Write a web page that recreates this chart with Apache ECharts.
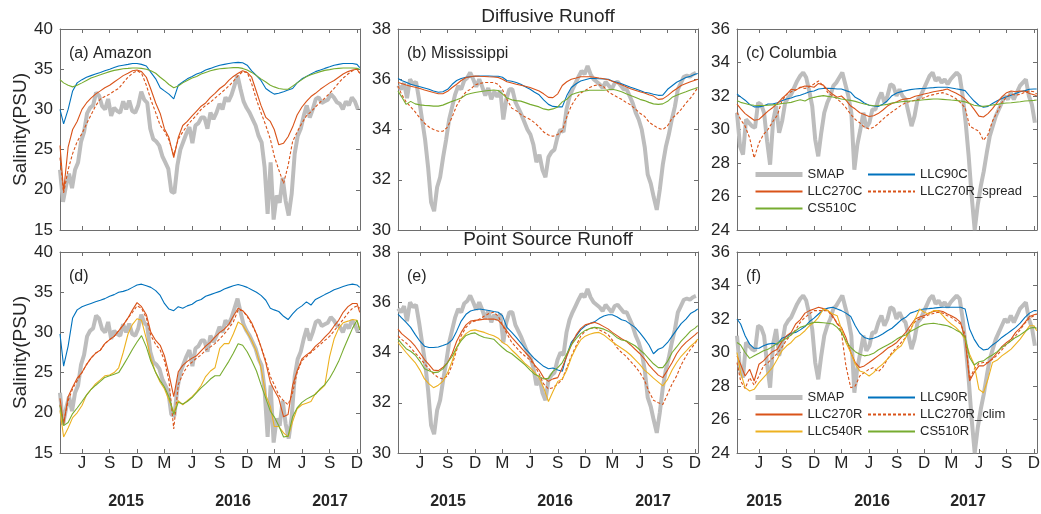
<!DOCTYPE html>
<html><head><meta charset="utf-8">
<script src="https://cdn.jsdelivr.net/npm/echarts@6.0.0/dist/echarts.min.js"></script>
<style>html,body{margin:0;padding:0;background:#fff}#c{width:1041px;height:514px}</style>
</head><body><div id="c"></div>
<script>
// ---------- time grids ----------
const semiDates = ['2015-03-20','2015-04-01','2015-04-16','2015-05-01','2015-05-16','2015-06-01','2015-06-16','2015-07-01','2015-07-16','2015-08-01','2015-08-16','2015-09-01','2015-09-16','2015-10-01','2015-10-16','2015-11-01','2015-11-16','2015-12-01','2015-12-16',
'2016-01-01','2016-01-16','2016-02-01','2016-02-16','2016-03-01','2016-03-16','2016-04-01','2016-04-16','2016-05-01','2016-05-16','2016-06-01','2016-06-16','2016-07-01','2016-07-16','2016-08-01','2016-08-16','2016-09-01','2016-09-16','2016-10-01','2016-10-16','2016-11-01','2016-11-16','2016-12-01','2016-12-16',
'2017-01-01','2017-01-16','2017-02-01','2017-02-16','2017-03-01','2017-03-16','2017-04-01','2017-04-16','2017-05-01','2017-05-16','2017-06-01','2017-06-16','2017-07-01','2017-07-16','2017-08-01','2017-08-16','2017-09-01','2017-09-16','2017-10-01','2017-10-16','2017-11-01','2017-11-16','2017-12-01','2017-12-10'];
const smapStart = '2015-03-20';   // SMAP series sampled every 10 days
const smapStepDays = 10;
const xMin = '2015-03-20', xMax = '2017-12-11';
const monthTicks = ['2015-06-01','2015-09-01','2015-12-01','2016-03-01','2016-06-01','2016-09-01','2016-12-01','2017-03-01','2017-06-01','2017-09-01','2017-12-01'];
const monthLetters = ['J','S','D','M','J','S','D','M','J','S','D'];
const yearLabels = ['2015','2016','2017'];

// ---------- Amazon ----------
const smapAmazon = [22.5,18.5,20.5,22.0,20.2,22.5,23.4,26.0,27.2,29.5,30.2,30.5,32.1,31.7,30.4,30.0,31.3,29.2,30.2,29.8,29.6,31.0,30.0,31.1,29.8,29.6,30.5,32.2,31.2,30.8,27.6,26.3,26.0,25.5,24.2,23.4,22.6,19.8,19.6,23.0,25.0,26.0,27.0,27.8,25.8,28.0,28.3,29.0,29.0,27.6,29.6,28.8,29.6,30.7,30.0,31.5,31.0,31.8,33.0,34.2,32.5,31.0,30.2,29.6,28.8,28.0,26.7,25.9,22.8,17.0,23.4,16.3,19.3,18.4,21.5,18.6,16.8,19.5,24.5,26.7,27.6,29.2,30.5,29.0,30.0,31.3,31.5,30.8,31.0,31.2,31.9,31.5,30.9,30.7,30.0,31.0,30.5,31.5,31.0,30.0];
const llc90cAmazon = [30.0,28.2,30.0,32.3,33.3,33.7,34.0,34.2,34.4,34.6,34.8,35.0,35.2,35.4,35.5,35.6,35.7,35.7,35.6,35.4,34.6,33.8,32.7,32.3,31.9,31.3,33.0,33.4,33.8,34.1,34.4,34.6,34.9,35.1,35.3,35.5,35.6,35.7,35.8,35.85,35.8,35.5,34.8,34.2,33.6,32.6,32.2,31.9,32.0,32.2,32.4,32.6,33.3,33.8,34.1,34.4,34.7,34.9,35.1,35.3,35.5,35.6,35.7,35.7,35.7,35.6,35.2];
const llc270cAmazon = [25.5,19.8,25.3,27.5,28.5,30.0,30.8,31.4,31.9,32.3,32.7,33.0,33.4,33.8,34.2,34.5,34.8,34.9,34.7,34.0,32.5,30.8,29.5,27.6,26.5,24.0,26.5,28.0,28.5,29.2,29.8,30.4,30.8,31.5,32.0,32.6,33.0,33.6,34.1,34.5,34.8,34.6,34.0,32.2,30.5,29.0,28.5,27.5,25.6,25.8,26.6,27.8,29.3,30.3,31.0,31.6,32.0,32.5,32.9,33.3,33.6,34.0,34.4,34.7,34.9,35.0,34.5];
const spreadAmazon = [24.0,19.6,22.5,24.5,26.0,27.0,28.2,29.3,30.4,31.3,31.6,31.9,32.3,32.6,33.3,34.0,34.5,34.8,34.5,33.0,31.2,29.6,28.0,27.3,26.2,24.3,26.3,27.2,28.0,28.7,29.3,30.0,30.5,30.9,31.4,31.9,32.4,32.9,33.5,34.2,34.7,34.6,33.2,31.2,29.6,28.0,26.3,24.2,22.5,20.8,23.0,26.0,27.2,28.3,29.2,29.7,30.3,30.9,31.4,32.0,32.6,33.3,33.9,34.4,34.8,35.1,34.5];
const cs510cAmazon = [33.7,33.3,33.0,32.8,33.0,33.3,33.6,33.9,34.1,34.3,34.5,34.7,34.85,34.95,35.05,35.1,35.15,35.15,35.1,35.0,34.8,34.5,34.0,33.6,33.1,32.7,32.9,33.3,33.6,33.9,34.1,34.4,34.6,34.8,34.95,35.05,35.1,35.15,35.2,35.2,35.1,34.9,34.6,34.2,33.8,33.4,33.0,32.8,32.6,32.5,32.5,32.9,33.3,33.7,34.1,34.3,34.5,34.7,34.85,34.95,35.05,35.1,35.15,35.15,35.15,35.1,35.0];
const llc90rAmazon = [29.8,25.8,28.3,31.8,32.8,33.2,33.4,33.6,33.8,34.0,34.2,34.5,34.7,35.0,35.1,35.3,35.6,35.9,36.0,35.8,35.6,35.2,34.6,33.6,32.9,32.7,33.2,33.0,33.3,33.5,33.9,34.1,34.5,34.7,34.9,35.1,35.4,35.6,35.8,35.95,35.8,35.6,35.3,35.0,34.6,34.0,33.0,32.8,32.6,32.0,31.6,32.3,32.9,33.3,33.8,33.4,34.1,34.4,34.7,35.0,35.3,35.5,35.7,35.9,36.0,35.9,35.6];
const llc270rAmazon = [21.8,18.5,22.0,23.2,24.3,25.0,26.0,26.8,27.4,27.8,28.6,29.1,29.5,30.2,30.9,31.8,32.8,33.7,33.2,32.2,30.0,29.0,28.4,27.1,24.8,22.0,25.1,25.9,26.4,26.8,27.1,27.7,28.3,28.8,29.4,30.0,30.4,31.0,32.0,33.0,32.7,32.1,31.2,29.8,28.2,26.2,23.8,22.8,21.8,19.5,19.8,23.4,25.2,26.7,27.2,27.6,28.3,28.8,29.4,30.0,30.8,31.5,32.5,33.2,33.6,33.6,32.5];
const climAmazon = [21.0,18.8,21.5,23.0,24.0,25.0,26.0,26.8,27.4,27.8,28.6,29.1,29.5,30.2,30.9,31.8,32.5,33.3,33.0,31.8,29.6,28.5,27.8,26.5,24.0,18.0,23.5,24.8,25.8,26.3,26.8,27.2,27.8,28.2,28.6,29.2,29.8,30.5,31.3,32.8,32.7,32.0,31.0,29.8,28.2,26.5,24.5,23.5,22.2,21.5,21.0,22.5,25.0,26.5,27.0,27.5,28.0,28.5,29.0,29.5,30.2,30.9,31.6,32.4,33.0,33.3,33.0];
const llc540rAmazon = [20.3,17.0,18.1,19.4,20.0,20.9,22.2,22.9,23.6,24.1,24.6,24.7,25.0,25.6,27.5,29.8,31.0,31.7,31.5,29.2,26.8,25.0,23.8,23.0,21.6,20.1,21.5,21.0,21.5,22.0,22.6,23.4,24.5,25.2,25.6,28.0,28.6,28.6,29.8,31.3,30.9,30.0,29.0,27.6,25.6,22.2,20.8,18.3,18.3,17.5,17.0,18.9,20.5,21.0,21.2,21.4,22.4,22.9,23.4,27.0,29.2,30.5,31.2,31.4,31.6,31.5,30.5];
const cs510rAmazon = [20.9,18.4,18.8,19.9,20.6,21.4,22.2,22.9,23.4,23.9,24.4,24.6,24.8,25.0,25.9,26.9,27.9,28.8,29.6,28.2,26.4,25.0,24.0,23.2,22.0,19.8,21.3,21.1,21.4,21.9,22.5,23.1,23.6,24.2,24.6,24.6,25.5,26.4,27.4,28.6,28.4,27.6,26.5,25.2,23.5,21.8,20.2,19.5,18.4,17.0,17.1,19.5,20.6,21.3,21.7,22.0,22.3,23.0,23.5,24.3,25.3,26.4,27.8,29.2,30.5,31.5,30.3];

// ---------- Mississippi ----------
const smapMiss = [35.75,35.6,35.85,35.25,36.0,35.8,35.9,35.2,34.4,33.6,32.5,31.1,30.75,31.7,32.1,32.9,33.6,34.4,34.9,35.4,35.73,35.6,35.95,36.05,36.27,36.0,35.7,36.0,35.7,35.35,35.65,35.2,35.5,35.3,35.55,34.4,35.2,35.6,35.6,35.1,34.85,34.6,34.3,34.0,33.8,33.4,32.7,33.0,32.4,32.1,32.9,33.1,33.2,33.7,34.0,33.9,34.8,35.3,35.6,35.85,36.1,36.33,36.2,36.53,36.2,36.0,35.9,35.8,35.65,35.9,35.75,35.6,35.85,35.9,35.75,35.6,35.6,35.33,35.05,34.67,34.4,34.0,33.3,32.2,31.85,31.3,30.8,31.6,32.6,33.3,33.8,34.4,34.9,35.6,35.85,36.1,36.15,36.1,36.2,36.25];
const llc90cMiss = [36.03,35.95,35.88,35.8,35.75,35.7,35.65,35.6,35.53,35.48,35.5,35.6,35.8,35.95,36.03,36.08,36.1,36.12,36.13,36.13,36.13,36.12,36.12,36.08,35.95,35.92,35.87,35.8,35.7,35.6,35.48,35.38,35.18,35.0,34.92,34.9,34.9,35.35,35.67,35.82,35.93,35.98,36.03,36.03,36.02,36.01,36.0,35.93,35.88,35.82,35.75,35.68,35.62,35.55,35.48,35.45,35.4,35.36,35.37,35.6,35.74,35.88,35.97,36.07,36.12,36.2,36.23];
const llc270cMiss = [35.87,35.83,35.77,35.72,35.68,35.63,35.57,35.52,35.47,35.42,35.42,35.52,35.67,35.8,35.95,36.07,36.1,36.13,36.12,36.11,36.1,36.09,36.07,36.0,35.9,35.85,35.8,35.76,35.72,35.67,35.6,35.53,35.42,35.28,35.27,35.42,35.75,35.9,36.0,36.05,36.1,36.1,36.1,36.08,36.05,36.02,35.98,35.92,35.85,35.78,35.7,35.62,35.56,35.5,35.45,35.38,35.33,35.2,35.22,35.35,35.5,35.62,35.75,35.83,35.9,35.96,36.0];
const spreadMiss = [35.73,35.4,35.1,34.9,34.7,34.45,34.25,34.1,34.0,33.93,33.93,34.1,34.5,34.95,35.25,35.5,35.6,35.78,35.83,35.87,35.87,35.87,35.8,35.6,35.2,34.85,34.75,34.6,34.5,34.4,34.27,34.1,33.9,33.78,33.73,33.8,33.95,34.5,34.95,35.25,35.45,35.55,35.67,35.75,35.78,35.7,35.5,35.4,35.3,35.2,35.08,34.98,34.82,34.65,34.53,34.3,34.17,34.05,34.0,34.15,34.45,34.6,34.8,35.05,35.25,35.5,35.67];
const cs510cMiss = [35.53,35.3,35.0,35.12,35.02,34.98,34.96,34.95,34.93,34.93,34.97,35.05,35.12,35.18,35.25,35.38,35.43,35.47,35.5,35.53,35.55,35.57,35.55,35.42,35.25,35.18,35.15,35.13,35.07,35.0,34.95,34.9,34.82,34.78,34.82,34.9,35.1,35.2,35.38,35.45,35.5,35.53,35.56,35.56,35.56,35.56,35.58,35.6,35.56,35.5,35.42,35.35,35.28,35.2,35.15,35.08,35.02,35.0,35.02,35.12,35.28,35.36,35.43,35.5,35.57,35.63,35.67];
const llc90rMiss = [35.53,35.38,35.2,35.0,34.72,34.45,34.25,34.2,34.2,34.22,34.28,34.35,34.5,34.85,35.25,35.52,35.65,35.7,35.73,35.7,35.67,35.63,35.6,35.47,35.0,34.8,34.6,34.38,34.15,33.95,33.75,33.6,33.45,33.35,33.38,33.3,33.25,33.9,34.4,34.65,34.9,35.05,35.15,35.22,35.35,35.45,35.5,35.5,35.42,35.3,35.25,35.12,35.0,34.78,34.55,34.3,33.95,34.13,34.2,34.4,34.65,34.9,35.15,35.33,35.55,35.65,35.73];
const llc270rMiss = [34.93,34.75,34.6,34.45,34.25,33.98,33.72,33.52,33.3,33.28,33.4,33.6,33.95,34.45,34.8,35.1,35.25,35.28,35.3,35.33,35.33,35.33,35.28,35.1,34.85,34.6,34.4,34.2,34.0,33.8,33.5,33.3,33.0,32.85,32.95,33.0,33.4,33.85,34.3,34.7,34.95,35.1,35.15,35.2,35.13,35.03,34.93,34.8,34.68,34.55,34.45,34.3,34.13,33.95,33.75,33.5,33.3,33.1,33.0,33.3,33.6,33.95,34.2,34.4,34.55,34.7,34.8];
const climMiss = [34.67,34.52,34.38,34.2,33.98,33.78,33.55,33.35,33.15,33.0,32.95,33.07,33.5,34.1,34.67,35.0,35.18,35.25,35.33,35.45,35.55,35.6,35.45,35.1,34.75,34.4,34.2,34.0,33.85,33.7,33.48,33.15,32.75,32.55,32.6,32.75,32.93,33.4,33.85,34.27,34.65,34.85,34.95,35.0,34.9,34.82,34.7,34.5,34.2,34.0,33.85,33.65,33.45,33.2,32.9,32.45,32.1,32.0,31.93,32.35,32.75,33.07,33.5,33.85,34.13,34.35,34.53];
const llc540rMiss = [34.4,34.22,34.0,33.8,33.6,33.3,32.95,32.75,32.6,32.7,32.85,33.2,33.65,34.2,34.53,34.75,34.87,34.9,34.85,34.8,34.73,34.67,34.57,34.4,34.3,34.1,33.93,33.75,33.55,33.4,33.2,33.0,32.6,32.05,32.45,32.85,32.95,33.3,33.8,34.2,34.5,34.65,34.73,34.78,34.8,34.7,34.55,34.43,34.3,34.17,34.05,33.9,33.72,33.52,33.3,33.15,32.98,32.82,32.67,32.93,33.3,33.6,33.85,34.05,34.25,34.4,34.53];
const cs510rMiss = [34.53,34.35,34.15,34.05,33.9,33.65,33.35,33.27,33.2,33.22,33.35,33.6,33.85,34.2,34.47,34.68,34.75,34.78,34.68,34.6,34.57,34.53,34.35,34.2,34.05,33.95,33.8,33.65,33.5,33.3,33.13,33.05,32.95,32.97,33.25,33.4,33.6,33.95,34.3,34.55,34.75,34.88,34.95,35.0,34.98,34.93,34.85,34.75,34.6,34.5,34.47,34.37,34.27,34.1,33.95,33.75,33.55,33.4,33.4,33.65,34.0,34.22,34.45,34.65,34.85,34.97,35.07];

// ---------- Columbia ----------
const smapColumbia = [31.0,29.0,28.5,30.6,30.4,30.2,30.1,31.6,31.5,31.0,29.3,27.9,30.5,31.4,29.8,30.5,31.6,31.9,32.1,32.5,32.9,33.2,33.4,33.1,32.3,31.4,29.4,28.4,29.8,31.0,31.6,32.0,32.6,32.8,33.1,33.4,32.7,32.0,31.0,27.6,29.1,30.0,31.0,30.1,30.4,31.2,31.2,31.8,32.2,31.6,32.0,32.7,32.6,32.0,32.4,32.0,31.8,31.0,30.2,30.8,31.8,32.0,32.4,32.8,33.2,33.4,32.9,33.1,32.8,33.0,32.7,33.0,33.2,33.4,33.2,32.0,30.4,28.4,26.0,24.0,25.5,26.6,27.5,28.6,29.6,30.2,30.8,31.2,31.6,32.0,31.8,32.2,31.8,32.2,32.6,32.8,33.0,32.0,31.5,30.4];
const llc90cColumbia = [32.12,31.95,31.75,31.5,31.35,31.35,31.4,31.52,31.52,31.6,31.72,31.82,31.88,31.98,32.05,32.15,32.25,32.3,32.42,32.45,32.46,32.45,32.42,32.42,32.32,32.22,31.92,31.78,31.58,31.45,31.4,31.38,31.5,31.72,32.02,32.18,32.26,32.32,32.38,32.42,32.44,32.45,32.48,32.5,32.52,32.52,32.52,32.48,32.43,32.38,32.32,32.0,31.7,31.45,31.33,31.38,31.55,31.72,31.85,31.95,32.05,32.15,32.25,32.32,32.4,32.42,32.42];
const llc270cColumbia = [31.52,31.25,30.95,30.75,30.55,30.6,30.85,31.1,31.3,31.55,31.85,32.1,32.4,32.35,32.5,32.6,32.58,32.52,32.75,32.65,32.35,32.1,31.93,32.0,31.75,31.4,31.22,31.0,30.9,30.78,30.82,30.95,31.15,31.4,31.55,31.65,31.78,31.83,31.86,31.98,32.05,32.12,32.18,32.25,32.3,32.35,32.42,32.3,32.18,32.02,31.82,31.55,31.2,30.8,30.75,30.95,31.25,31.62,31.95,32.2,32.3,32.25,32.3,32.28,32.15,32.08,32.02];
const spreadColumbia = [31.02,30.6,30.2,29.5,28.3,29.2,29.7,30.0,30.45,30.85,31.7,32.1,32.25,32.35,32.52,32.45,32.55,32.72,32.9,32.6,32.2,32.0,31.83,31.6,31.3,30.9,30.6,30.4,30.15,30.03,30.13,30.35,30.6,30.85,31.05,31.25,31.45,31.6,31.68,31.75,31.82,31.9,32.02,32.08,32.15,32.2,32.1,32.0,31.85,31.6,31.3,30.2,30.05,29.9,29.35,29.7,30.5,31.05,31.6,31.95,32.12,32.05,32.1,32.22,32.3,32.25,32.12];
const cs510cColumbia = [31.72,31.62,31.55,31.48,31.45,31.43,31.43,31.45,31.47,31.5,31.55,31.58,31.62,31.7,31.78,31.7,31.85,31.92,31.98,32.02,31.98,31.94,31.88,31.82,31.78,31.74,31.68,31.6,31.52,31.46,31.42,31.43,31.46,31.5,31.58,31.62,31.66,31.68,31.7,31.72,31.75,31.78,31.8,31.82,31.82,31.8,31.78,31.76,31.74,31.7,31.65,31.55,31.45,31.4,31.38,31.42,31.46,31.5,31.55,31.58,31.6,31.63,31.66,31.7,31.72,31.74,31.76];
const llc90rColumbia = [32.0,31.7,31.0,30.5,30.25,30.25,30.4,30.5,30.55,30.5,30.85,30.95,31.15,31.2,31.35,31.55,31.85,32.05,32.3,32.55,32.65,32.7,32.6,32.5,32.35,32.15,31.6,31.15,30.9,30.8,30.85,30.95,31.1,31.3,31.45,31.7,31.95,32.1,32.35,32.45,32.55,32.6,32.62,32.65,32.68,32.7,32.7,32.7,32.7,32.7,32.6,31.4,30.8,30.35,30.15,30.2,30.45,30.65,30.9,31.1,31.3,31.5,31.75,32.1,32.35,32.5,32.5];
const llc270rColumbia = [29.8,29.3,28.6,29.0,28.3,29.3,29.5,29.8,30.05,30.2,30.65,31.0,31.2,31.7,31.95,32.35,32.5,32.6,32.7,32.62,32.5,32.2,31.7,31.5,30.9,30.0,29.4,29.1,29.2,29.4,29.6,29.8,30.0,30.25,30.4,30.6,30.9,31.2,31.6,32.0,32.12,32.2,32.35,32.45,32.5,32.45,32.3,32.2,32.05,31.8,30.8,28.3,28.8,29.2,29.2,29.4,29.65,30.0,30.35,30.6,30.8,31.2,31.45,31.8,32.15,32.25,32.3];
const climColumbia = [29.4,28.3,27.85,28.5,28.05,28.6,29.2,29.4,29.65,29.95,30.3,30.75,31.05,31.35,31.8,32.1,32.3,32.5,32.5,32.5,32.5,32.1,31.8,31.2,29.2,27.9,28.0,28.6,28.8,29.0,29.1,28.85,29.1,29.6,30.0,30.3,30.6,30.9,31.4,31.85,32.0,32.1,32.25,32.33,32.4,32.35,32.2,32.1,31.9,31.7,31.1,28.4,29.0,29.35,29.4,29.4,29.6,29.85,30.15,30.5,30.7,31.0,31.35,31.75,32.05,32.2,32.3];
const llc540rColumbia = [30.0,28.8,27.9,27.7,27.8,28.2,28.5,28.8,29.1,29.6,30.1,30.4,30.6,30.9,31.05,31.3,31.6,31.8,32.1,32.6,32.5,32.3,32.2,31.4,30.6,30.0,29.3,28.9,28.8,28.6,28.8,29.1,29.3,29.6,29.9,30.2,30.4,30.9,31.3,32.0,32.6,32.4,32.3,32.5,32.5,32.2,31.9,31.7,31.5,31.2,30.8,29.9,29.3,27.8,27.6,28.4,29.4,29.55,29.8,30.0,30.2,30.5,30.8,31.2,31.6,31.6,31.3];
const cs510rColumbia = [30.6,30.45,30.0,29.65,29.8,29.95,30.1,30.2,30.35,30.55,30.7,30.85,31.05,31.3,31.5,31.6,31.72,31.8,31.8,31.78,31.75,31.7,31.5,31.2,30.7,30.3,30.05,29.9,29.8,29.85,29.95,30.15,30.3,30.45,30.6,30.8,30.95,31.05,31.25,31.4,31.55,31.68,31.72,31.75,31.7,31.65,31.6,31.5,31.35,31.2,30.9,29.7,29.25,29.45,29.5,29.7,29.85,30.05,30.3,30.5,30.7,30.9,31.05,31.25,31.45,31.5,31.45];

// ---------- styles / layout ----------
const FONT = "'Liberation Sans', Arial, Helvetica, sans-serif";
const TXT = '#262626', BOX = '#6e6e6e';
const styles = {
  'SMAP':           {color:'#BDBDBD', width:4,   type:'solid'},
  'LLC90C':         {color:'#0072BD', width:1.1, type:'solid'},
  'LLC90R':         {color:'#0072BD', width:1.1, type:'solid'},
  'LLC270C':        {color:'#D95319', width:1.1, type:'solid'},
  'LLC270R':        {color:'#D95319', width:1.1, type:'solid'},
  'LLC270R_spread': {color:'#D95319', width:1.1, type:[3,2]},
  'LLC270R_clim':   {color:'#D95319', width:1.1, type:[3,2]},
  'LLC540R':        {color:'#EDB120', width:1.1, type:'solid'},
  'CS510C':         {color:'#77AC30', width:1.1, type:'solid'},
  'CS510R':         {color:'#77AC30', width:1.1, type:'solid'}
};
const panels = [
  {label:'(a) Amazon', left:60, top:29, ymin:15, ymax:40, yint:5, bottomRow:false, yName:true, smap:smapAmazon,
   models:[['LLC90C',llc90cAmazon],['LLC270C',llc270cAmazon],['LLC270R_spread',spreadAmazon],['CS510C',cs510cAmazon]]},
  {label:'(b) Mississippi', left:398, top:29, ymin:30, ymax:38, yint:2, bottomRow:false, smap:smapMiss,
   models:[['LLC90C',llc90cMiss],['LLC270C',llc270cMiss],['LLC270R_spread',spreadMiss],['CS510C',cs510cMiss]]},
  {label:'(c) Columbia', left:737, top:29, ymin:24, ymax:36, yint:2, bottomRow:false, smap:smapColumbia,
   models:[['LLC90C',llc90cColumbia],['LLC270C',llc270cColumbia],['LLC270R_spread',spreadColumbia],['CS510C',cs510cColumbia]]},
  {label:'(d)', left:60, top:252, ymin:15, ymax:40, yint:5, bottomRow:true, yName:true, smap:smapAmazon, years:[126,233,330],
   models:[['LLC90R',llc90rAmazon],['LLC270R',llc270rAmazon],['LLC270R_clim',climAmazon],['LLC540R',llc540rAmazon],['CS510R',cs510rAmazon]]},
  {label:'(e)', left:398, top:252, ymin:30, ymax:38, yint:2, bottomRow:true, smap:smapMiss, years:[448,555,653],
   models:[['LLC90R',llc90rMiss],['LLC270R',llc270rMiss],['LLC270R_clim',climMiss],['LLC540R',llc540rMiss],['CS510R',cs510rMiss]]},
  {label:'(f)', left:737, top:252, ymin:24, ymax:36, yint:2, bottomRow:true, smap:smapColumbia, years:[764,872,968],
   models:[['LLC90R',llc90rColumbia],['LLC270R',llc270rColumbia],['LLC270R_clim',climColumbia],['LLC540R',llc540rColumbia],['CS510R',cs510rColumbia]]}
];
const PW = 300, PH = 201;

const DAY = 86400000;
const ts = s => Date.parse(s);
const semiTs = semiDates.map(ts);
const smapTs = smapAmazon.map((_, k) => ts(smapStart) + k * smapStepDays * DAY);
const tickTs = monthTicks.map(ts);
const monthFmt = v => { const i = tickTs.indexOf(v); return i >= 0 ? monthLetters[i] : ''; };

const grid = [], xAxis = [], yAxis = [], series = [], graphic = [];
const lineBox = {show:true, onZero:false, lineStyle:{color:BOX, width:1}};
panels.forEach((p, i) => {
  grid.push({left:p.left, top:p.top, width:PW, height:PH, outerBoundsMode:'none'});
  const xBase = {type:'value', gridIndex:i, min:ts(xMin), max:ts(xMax), splitLine:{show:false},
    axisLine:lineBox, axisTick:{show:true, inside:true, length:4, customValues:tickTs, lineStyle:{color:BOX}}};
  xAxis.push(Object.assign({}, xBase, {position:'bottom',
    axisLabel:{show:p.bottomRow, customValues:tickTs, formatter:monthFmt, fontSize:17, color:TXT, fontFamily:FONT, margin:2}}));
  xAxis.push(Object.assign({}, xBase, {position:'top', axisLabel:{show:false}}));
  const yBase = {type:'value', gridIndex:i, min:p.ymin, max:p.ymax, interval:p.yint, splitLine:{show:false},
    axisLine:lineBox, axisTick:{show:true, inside:true, length:4, lineStyle:{color:BOX}}};
  yAxis.push(Object.assign({}, yBase, {position:'left',
    axisLabel:{show:true, fontSize:17, color:TXT, fontFamily:FONT, margin:7},
    name: p.yName ? 'Salinity(PSU)' : '', nameLocation:'middle', nameGap:29,
    nameTextStyle:{fontSize:19, color:TXT, fontFamily:FONT}}));
  yAxis.push(Object.assign({}, yBase, {position:'right', axisLabel:{show:false}}));

  const mk = (name, xs, vals) => {
    const st = styles[name];
    series.push({type:'line', name, xAxisIndex:2*i, yAxisIndex:2*i, data: vals.map((v, k) => [xs[k], v]),
      symbol:'none', showSymbol:false, silent:true, animation:false, emphasis:{disabled:true},
      itemStyle:{color:st.color}, lineStyle:{color:st.color, width:st.width, type:st.type}});
  };
  mk('SMAP', smapTs, p.smap);
  p.models.forEach(([name, vals]) => mk(name, semiTs, vals));

  graphic.push({type:'text', x:p.left + 9, y:p.top + 25, silent:true,
    style:{text:p.label, font:'16px ' + FONT, fill:TXT, align:'left', verticalAlign:'middle'}});
  if (p.years) p.years.forEach((x, k) => graphic.push({type:'text', x, y:502, silent:true,
    style:{text:yearLabels[k], font:'bold 16px ' + FONT, fill:TXT, align:'center', verticalAlign:'middle'}}));
});
graphic.push({type:'text', x:548, y:17, silent:true, style:{text:'Diffusive Runoff', font:'19px ' + FONT, fill:TXT, align:'center', verticalAlign:'middle'}});
graphic.push({type:'text', x:548, y:240, silent:true, style:{text:'Point Source Runoff', font:'19px ' + FONT, fill:TXT, align:'center', verticalAlign:'middle'}});

const legBase = {orient:'vertical', padding:0, itemWidth:47, itemHeight:14, itemGap:4, selectedMode:false,
  textStyle:{fontSize:13, color:TXT, fontFamily:FONT},
  itemStyle:{color:'rgba(0,0,0,0)', borderWidth:0, opacity:0}};
const smapLeg = {name:'SMAP', lineStyle:{width:5}};
const legend = [
  Object.assign({}, legBase, {left:753, top:168, data:[smapLeg, 'LLC270C', 'CS510C']}),
  Object.assign({}, legBase, {left:867, top:168, data:['LLC90C', 'LLC270R_spread']}),
  Object.assign({}, legBase, {left:753, top:391, data:[smapLeg, 'LLC270R', 'LLC540R']}),
  Object.assign({}, legBase, {left:867, top:391, data:['LLC90R', 'LLC270R_clim', 'CS510R']})
];

const chart = echarts.init(document.getElementById('c'), null, {renderer:'canvas'});
chart.setOption({animation:false, backgroundColor:'#fff', grid, xAxis, yAxis, series, legend, graphic});
</script></body></html>
